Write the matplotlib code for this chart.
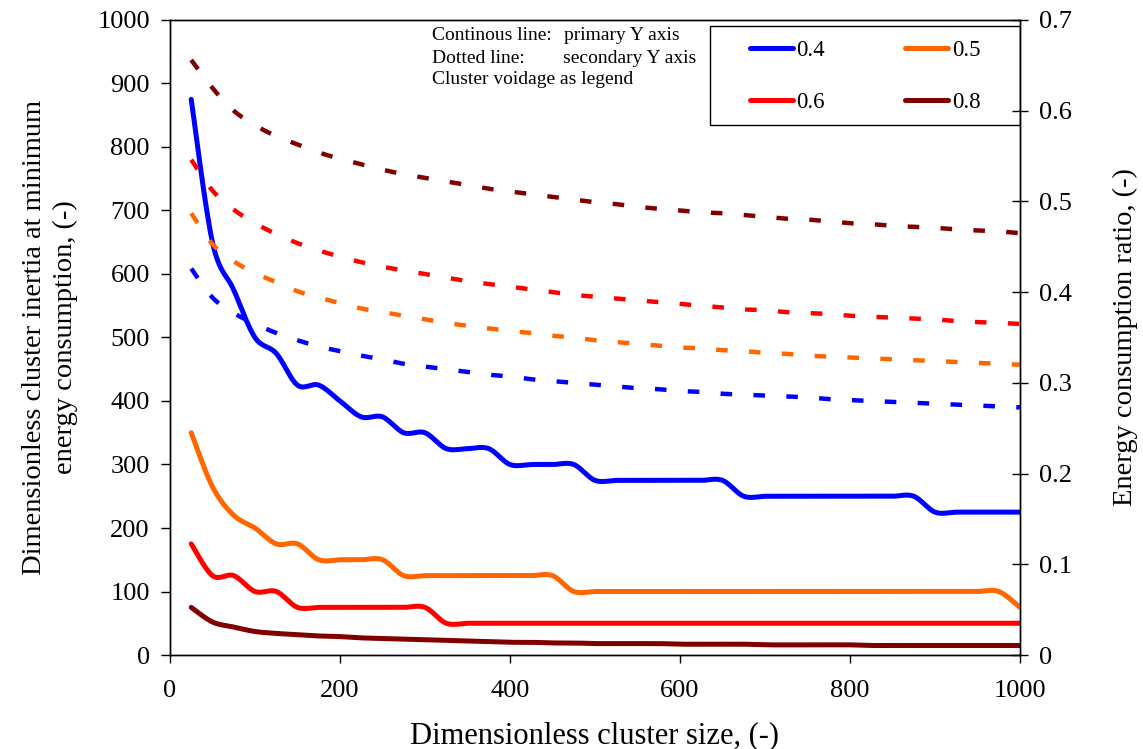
import numpy as np
import matplotlib
matplotlib.use("Agg")
import matplotlib.pyplot as plt
from matplotlib.patches import Rectangle
from matplotlib.ticker import FuncFormatter

plt.rcParams['font.family'] = ['Liberation Serif', 'DejaVu Serif']

# cluster size (x) shared by every series
size = list(range(25, 1001, 25))

# primary axis: dimensionless cluster inertia at minimum energy consumption
inertia_04 = [875, 650, 575, 500, 475, 425, 425, 400, 375, 375,
              350, 350, 325, 325, 325, 300, 300, 300, 300, 275,
              275, 275, 275, 275, 275, 275, 250, 250, 250, 250,
              250, 250, 250, 250, 250, 225, 225, 225, 225, 225]
inertia_05 = [350, 265, 220, 200, 175, 175, 150, 150, 150, 150,
              125, 125, 125, 125, 125, 125, 125, 125, 100, 100,
              100, 100, 100, 100, 100, 100, 100, 100, 100, 100,
              100, 100, 100, 100, 100, 100, 100, 100, 100, 75]
inertia_06 = [175, 125, 125, 100, 100, 75, 75, 75, 75, 75,
              75, 75, 50, 50, 50, 50, 50, 50, 50, 50,
              50, 50, 50, 50, 50, 50, 50, 50, 50, 50,
              50, 50, 50, 50, 50, 50, 50, 50, 50, 50]
inertia_08 = [75, 52, 44, 37, 34, 32, 30, 29, 27, 26,
              25, 24, 23, 22, 21, 20, 20, 19, 19, 18,
              18, 18, 18, 17, 17, 17, 17, 16, 16, 16,
              16, 16, 15, 15, 15, 15, 15, 15, 15, 15]

# secondary axis: energy consumption ratio
ratio_04 = [0.426, 0.394, 0.377, 0.365, 0.355, 0.347, 0.340, 0.335, 0.330, 0.326,
            0.321, 0.318, 0.315, 0.312, 0.309, 0.307, 0.304, 0.302, 0.300, 0.298,
            0.296, 0.294, 0.293, 0.291, 0.290, 0.288, 0.287, 0.286, 0.285, 0.284,
            0.282, 0.281, 0.280, 0.279, 0.278, 0.277, 0.276, 0.275, 0.274, 0.273]
ratio_05 = [0.487, 0.453, 0.434, 0.421, 0.411, 0.401, 0.394, 0.388, 0.382, 0.378,
            0.374, 0.370, 0.366, 0.363, 0.360, 0.357, 0.355, 0.352, 0.350, 0.347,
            0.345, 0.343, 0.341, 0.339, 0.338, 0.336, 0.335, 0.333, 0.332, 0.330,
            0.329, 0.328, 0.327, 0.326, 0.325, 0.324, 0.323, 0.322, 0.321, 0.320]
ratio_06 = [0.546, 0.512, 0.491, 0.476, 0.464, 0.454, 0.446, 0.439, 0.433, 0.428,
            0.424, 0.420, 0.416, 0.412, 0.409, 0.406, 0.403, 0.400, 0.397, 0.395,
            0.393, 0.391, 0.389, 0.387, 0.385, 0.383, 0.381, 0.380, 0.378, 0.377,
            0.376, 0.374, 0.373, 0.372, 0.371, 0.370, 0.368, 0.367, 0.366, 0.365]
ratio_08 = [0.656, 0.625, 0.600, 0.584, 0.572, 0.563, 0.554, 0.547, 0.541, 0.535,
            0.530, 0.526, 0.522, 0.518, 0.514, 0.511, 0.508, 0.505, 0.502, 0.499,
            0.497, 0.494, 0.492, 0.490, 0.488, 0.487, 0.485, 0.483, 0.481, 0.480,
            0.478, 0.476, 0.475, 0.473, 0.472, 0.471, 0.469, 0.468, 0.467, 0.465]

voidage = ['0.4', '0.5', '0.6', '0.8']
colors = ['#0000FF', '#FF6600', '#FF0000', '#800000']


def smooth(x, y, n=16):
    # spreadsheet-style smoothed line: cubic Bezier segments through every point
    x = np.asarray(x, float)
    y = np.asarray(y, float)
    out = []
    for v in (x, y):
        p = np.concatenate([[v[0]], v, [v[-1]]])
        p0, p1, p2, p3 = p[:-3], p[1:-2], p[2:-1], p[3:]
        b1 = p1 + (p2 - p0) / 6
        b2 = p2 - (p3 - p1) / 6
        t = np.linspace(0, 1, n, endpoint=False)[:, None]
        c = ((1 - t) ** 3 * p1 + 3 * (1 - t) ** 2 * t * b1
             + 3 * (1 - t) * t ** 2 * b2 + t ** 3 * p2)
        out.append(np.append(c.T.ravel(), v[-1]))
    return out


fig = plt.figure(figsize=(11.43, 7.49), dpi=100)
ax = fig.add_axes([0.1487, 0.1255, 0.7437, 0.8478])
ax2 = ax.twinx()

lines = []
for ys, c, lab in zip([inertia_04, inertia_05, inertia_06, inertia_08], colors, voidage):
    sx, sy = smooth(size, ys)
    ln, = ax.plot(sx, sy, color=c, lw=3.6, label=lab, solid_capstyle='round', zorder=3)
    lines.append(ln)

for ys, c in zip([ratio_04, ratio_05, ratio_06, ratio_08], colors):
    sx, sy = smooth(size, ys)
    ax2.plot(sx, sy, color=c, lw=3.2, linestyle=(0, (2.6, 4.8)), dash_capstyle='butt')

ax.set_xlim(0, 1000)
ax.set_ylim(0, 1000)
ax2.set_ylim(0, 0.7)
ax.set_xticks(range(0, 1001, 200))
ax.set_yticks(range(0, 1001, 100))
ax2.set_yticks(np.arange(0, 0.71, 0.1))
ax2.yaxis.set_major_formatter(FuncFormatter(lambda v, p: '%g' % round(v, 1)))

ax.tick_params(axis='x', direction='out', length=6, width=1, labelsize=19, pad=12)
ax.tick_params(axis='y', direction='out', length=6.5, width=1, labelsize=19, pad=8)
ax2.tick_params(axis='y', direction='inout', length=12, width=1, labelsize=19, pad=8)
for a in (ax, ax2):
    for s in a.spines.values():
        s.set_linewidth(1.0)

ax.set_xlabel('Dimensionless cluster size, (-)', fontsize=22, labelpad=14)
ax.set_ylabel('Dimensionless cluster inertia at minimum\nenergy consumption, (-)',
              fontsize=20.5, labelpad=14, linespacing=1.3)
ax2.set_ylabel('Energy consumption ratio, (-)', fontsize=20.5, rotation=90, labelpad=29)

# notes on how to read the chart
note_kw = dict(transform=ax.transAxes, fontsize=14, va='center', ha='left')
ax.text(0.308, 0.976, 'Continous line:', **note_kw)
ax.text(0.463, 0.976, 'primary Y axis', **note_kw)
ax.text(0.308, 0.939, 'Dotted line:', **note_kw)
ax.text(0.462, 0.939, 'secondary Y axis', **note_kw)
ax.text(0.308, 0.907, 'Cluster voidage as legend', **note_kw)

ax.add_patch(Rectangle((0.635, 0.8346), 0.365, 0.1564, transform=ax.transAxes,
                       fill=False, edgecolor='black', lw=1.0, zorder=4))
# two columns: 0.4 / 0.6 on the left, 0.5 / 0.8 on the right
order = [0, 2, 1, 3]
ax.legend([lines[i] for i in order], [voidage[i] for i in order],
          loc='upper left', bbox_to_anchor=(0.682, 0.969), ncol=2, frameon=False,
          fontsize=16.5, handlelength=1.87, handletextpad=0.17, columnspacing=3.5,
          labelspacing=1.37, borderaxespad=0, borderpad=0)

fig.savefig('out.png', dpi=100)
